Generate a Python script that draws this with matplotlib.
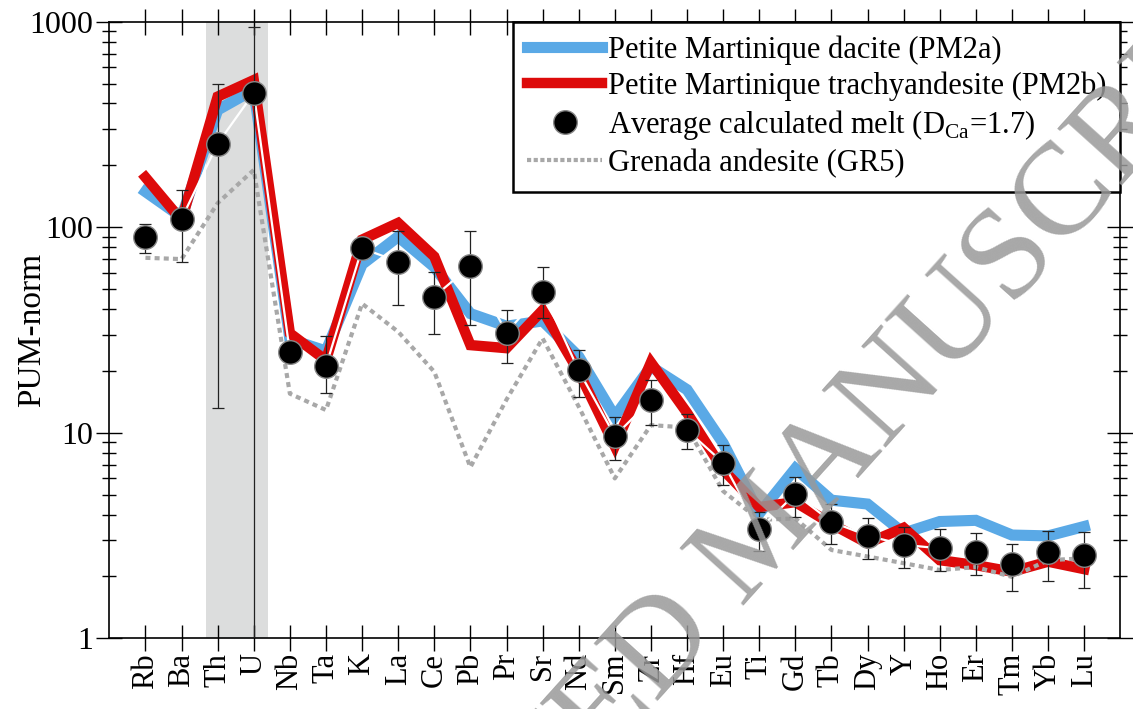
import numpy as np
import matplotlib
matplotlib.use('Agg')
import matplotlib.pyplot as plt
from matplotlib.ticker import FixedLocator, NullFormatter

plt.rcParams['font.family'] = 'Liberation Serif'
plt.rcParams['mathtext.fontset'] = 'custom'
plt.rcParams['mathtext.rm'] = 'Liberation Serif'

# trace elements, primitive upper mantle normalised
elements = ['Rb', 'Ba', 'Th', 'U', 'Nb', 'Ta', 'K', 'La', 'Ce', 'Pb', 'Pr', 'Sr', 'Nd', 'Sm',
            'Zr', 'Hf', 'Eu', 'Ti', 'Gd', 'Tb', 'Dy', 'Y', 'Ho', 'Er', 'Tm', 'Yb', 'Lu']

pm2a = [149, 112, 372, 467, 28.5, 25, 66, 90, 64, 38, 33, 35, 23.5, 12.0,
        21, 16.2, 8.9, 4.05, 6.7, 4.7, 4.5, 3.25, 3.7, 3.75, 3.18, 3.15, 3.5]
pm2b = [175, 108, 432, 520, 30.5, 22.5, 87, 105, 72, 26.7, 25.8, 39.5, 19.8, 8.6,
        22, 12.5, 6.6, 4.35, 4.6, 3.6, 2.9, 3.45, 2.40, 2.27, 2.11, 2.36, 2.17]
gr5 = [71, 70, 131, 190, 15.5, 12.9, 42.5, 31, 19.8, 6.8, 14.5, 28.8, 13.4, 6.0,
       10.9, 10.6, 5.2, 3.77, 3.83, 2.69, 2.50, 2.32, 2.15, 2.22, 1.99, 2.40, 2.45]

melt = [90, 110, 255, 450, 24.7, 21.1, 79, 68, 46, 64.8, 30.7, 48.6, 20.1, 9.65,
        14.4, 10.3, 7.15, 3.40, 5.04, 3.69, 3.16, 2.85, 2.74, 2.64, 2.29, 2.62, 2.54]
melt_hi = [104, 151, 498, 946, 27, 29.6, 87, 96, 60.4, 96, 39.6, 64.3, 25.3, 11.9,
           18.1, 12.3, 8.73, 4.13, 6.11, 4.49, 3.86, 3.49, 3.39, 3.24, 2.88, 3.34, 3.30]
melt_lo = [75, 67.6, 13.2, 0.5, 22.5, 15.6, 72, 41.9, 30.2, 33.5, 21.8, 36, 14.9, 7.37,
           10.9, 8.34, 5.57, 2.66, 3.88, 2.87, 2.43, 2.19, 2.13, 2.03, 1.70, 1.89, 1.75]

x = np.arange(len(elements))
melt = np.array(melt)
yerr = [melt - np.array(melt_lo), np.array(melt_hi) - melt]

fig = plt.figure(figsize=(11.33, 7.09), dpi=100)
ax = fig.add_axes([0.0965, 0.0997, 0.8923, 0.8697])

# Th-U band
ax.axvspan(1.67, 3.39, color='#dcdddd', lw=0, zorder=0)

ax.plot(x, pm2a, color='#5aa9e6', lw=8, solid_joinstyle='miter', zorder=2,
        label='Petite Martinique dacite (PM2a)')
ax.plot(x, pm2b, color='#dd0a0a', lw=7.5, solid_joinstyle='miter', zorder=3,
        label='Petite Martinique trachyandesite (PM2b)')
ax.plot(x, gr5, color='#a8a8a8', lw=3, ls=(0, (1.2, 1.0)), zorder=4)
ax.plot(x, melt, color='white', lw=1.6, zorder=5)
ax.errorbar(x, melt, yerr=yerr, fmt='none', ecolor='#222222', elinewidth=0.9,
            capsize=4.5, capthick=0.9, zorder=6)
ax.plot(x, melt, 'o', color='black', ms=17, mec='#888888', mew=1, ls='none', zorder=7,
        label='Average calculated melt (D$_{\\mathrm{Ca}}$=1.7)')
ax.plot([], [], color='#a8a8a8', lw=3, ls=(0, (1.0, 0.6)), label='Grenada andesite (GR5)')

ax.set_yscale('log')
ax.set_ylim(1, 1000)
ax.set_xlim(-1, len(elements))
ax.set_xticks(x)
ax.set_xticklabels(elements, rotation=90, fontsize=22)
ax.yaxis.set_major_locator(FixedLocator([1, 10, 100, 1000]))
ax.yaxis.set_minor_locator(FixedLocator([m * 10**d for d in range(3) for m in range(2, 10)]))
ax.yaxis.set_minor_formatter(NullFormatter())
ax.set_yticklabels(['1', '10', '100', '1000'], fontsize=23)
ax.set_ylabel('PUM-norm', fontsize=24)
ax.yaxis.set_label_coords(-0.062, 0.5)

ax.tick_params(axis='both', which='major', direction='inout', length=19, width=1,
               top=True, right=True, pad=2)
ax.tick_params(axis='y', which='minor', direction='inout', length=10, width=1,
               left=True, right=True)
ax.tick_params(axis='x', pad=1)
for s in ax.spines.values():
    s.set_linewidth(1.2)

leg = ax.legend(loc='upper right', bbox_to_anchor=(1, 1), borderaxespad=0,
                fontsize=22, handlelength=2.45, handletextpad=0.2, labelspacing=0.22,
                borderpad=0.45, fancybox=False, framealpha=1, edgecolor='black')
leg.get_frame().set_linewidth(1.8)
leg.set_zorder(10)

# watermark text across the page, over everything
fig.text(0.674, 0.244, 'ACCEPTED MANUSCRIPT', rotation=48, fontsize=95,
         color='#999999', alpha=0.85, ha='center', va='center', zorder=20,
         rotation_mode='anchor')

fig.savefig('out.png', dpi=100)
